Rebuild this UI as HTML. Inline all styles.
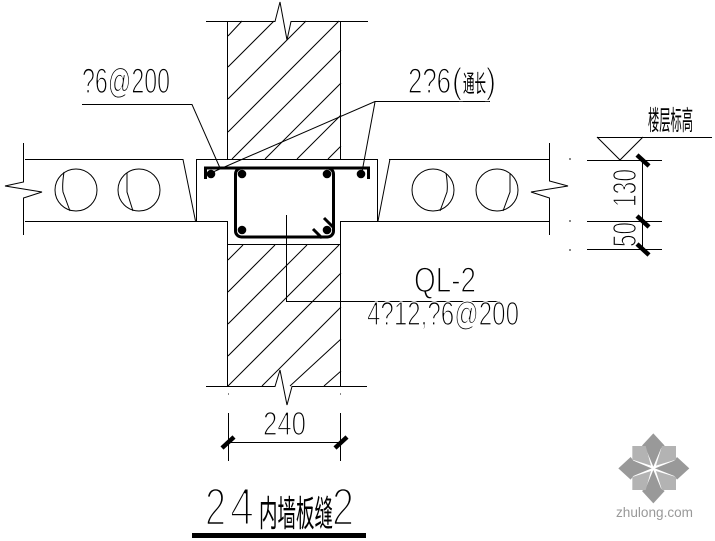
<!DOCTYPE html>
<html><head><meta charset="utf-8"><style>
html,body{margin:0;padding:0;background:#fff}
svg{display:block}
text{font-family:"Liberation Sans","Noto Sans CJK SC",sans-serif;fill:#000}
.t{stroke:#fff;stroke-width:1.3px}
.b{stroke:#fff;stroke-width:2.4px}
.c{stroke:none}
</style></head><body>
<svg width="715" height="541" viewBox="0 0 715 541" xmlns="http://www.w3.org/2000/svg">
<rect width="715" height="541" fill="#fff"/>
<g fill="none" stroke="#000" stroke-width="1">
<path d="M228 36L242 21M228 67L274 21M228 99L306 21M228 132L339 21M232 159L341 50M265 159L341 83M297 159L341 115M328 159L341 146"/>
<path d="M228 260L243 245M228 292L275 245M228 324L307 245M228 356L339 245M228 386L341 273M262 386L341 307M290 386L341 339M324 386L341 371"/>
<path d="M206 21.500H275L280 2L287 40L291 21.500H368"/>
<path d="M206 386.500H275L280 370L287 405L292 386.500H367"/>
<path d="M227.500 21V159M340.500 21V159M227.500 245V386M340.500 245V386"/>
<path d="M196.500 159.500H377.500V221.500H340.500V244.500H227.500V221.500H196.500Z"/>
<path d="M25 159.500H183L195.500 221M25 221.500H196"/>
<path d="M23.500 143V182L5 186L42 192L23.500 198V235"/>
<path d="M389 159.500H549M390 159L378 221M378 221.500H549"/>
<path d="M549.500 143V181L568 186L531 192L549.500 198V235"/>
<circle cx="76" cy="190" r="21"/><circle cx="139" cy="190" r="21"/>
<circle cx="433" cy="190" r="21"/><circle cx="497" cy="190" r="21"/>
<path d="M64 172Q62 185 63 192L70 211M127 173V192L133 211M446 173Q448 185 447 192L440 211M510 173V192L503 211"/>
<path d="M82 104.500H192L220 168"/>
<path d="M490 101.500H375L213 172M375 102L362 172"/>
<path d="M286.500 215V301.500H500"/>
<path d="M597 137.500H712M597 137L620 160L643 137"/>
<path d="M587 160.500H662M587 221.500H662M587 249.500H662M642.500 160V250"/>
<path d="M228.500 413V461M340.500 413V461M228 442.500H340"/>
</g>
<g fill="none" stroke="#000" stroke-width="3">
<rect x="235.500" y="168" width="98" height="69" rx="6"/>
<path d="M205.500 179V168H368.500V179"/>
<path d="M324 218L333 227M313 229L322 238"/>
</g>
<g fill="#000">
<circle cx="211" cy="174" r="4.300"/><circle cx="242" cy="174" r="4.300"/><circle cx="327" cy="174" r="4.300"/><circle cx="361" cy="174" r="4.300"/>
<circle cx="242" cy="230" r="4.300"/><circle cx="327" cy="230" r="4.300"/>
</g>
<g stroke="#000" stroke-width="4.500" fill="none">
<path d="M637 155L649 166M637 216L649 227M637 244L649 255"/>
<path d="M222 448L234 437M335 448L347 437"/>
</g>
<rect x="192" y="533" width="174" height="5" fill="#000"/>
<g fill="#888">
<rect x="228" y="393" width="1" height="2"/><rect x="340" y="393" width="1" height="2"/>
<rect x="569" y="158" width="2" height="2"/><rect x="569" y="220" width="2" height="2"/><rect x="569" y="249" width="2" height="2"/>
</g>
<text class="t" x="82" y="93" font-size="35" textLength="88" lengthAdjust="spacingAndGlyphs">?6@200</text>
<text class="t" x="408" y="93" font-size="35" textLength="43" lengthAdjust="spacingAndGlyphs">2?6</text>
<text class="t" x="452" y="93" font-size="36" textLength="10" lengthAdjust="spacingAndGlyphs">(</text>
<text class="c" x="463" y="92" font-size="24" textLength="23" lengthAdjust="spacingAndGlyphs">通长</text>
<text class="t" x="486" y="93" font-size="36" textLength="10" lengthAdjust="spacingAndGlyphs">)</text>
<text class="t" x="414" y="292" font-size="35" textLength="62" lengthAdjust="spacingAndGlyphs">QL-2</text>
<text class="t" x="367" y="325" font-size="33" textLength="152" lengthAdjust="spacingAndGlyphs">4?12,?6@200</text>
<text class="t" x="263" y="435" font-size="33" textLength="43" lengthAdjust="spacingAndGlyphs">240</text>
<text class="t" transform="translate(636 207) rotate(-90)" x="0" y="0" font-size="33" textLength="38" lengthAdjust="spacingAndGlyphs">130</text>
<text class="t" transform="translate(636 247) rotate(-90)" x="0" y="0" font-size="33" textLength="25" lengthAdjust="spacingAndGlyphs">50</text>
<text class="c" x="648" y="130" font-size="27" textLength="45" lengthAdjust="spacingAndGlyphs">楼层标高</text>
<text class="b" x="205" y="525" font-size="53" textLength="21" lengthAdjust="spacingAndGlyphs">2</text>
<text class="b" x="230" y="525" font-size="53" textLength="24" lengthAdjust="spacingAndGlyphs">4</text>
<text class="c" x="259" y="526" font-size="36" textLength="74" lengthAdjust="spacingAndGlyphs">内墙板缝</text>
<text class="b" x="332" y="525" font-size="53" textLength="22" lengthAdjust="spacingAndGlyphs">2</text>
<g transform="translate(600 425) scale(.3333)">
<g fill="#999">
<path d="M160 25L194 62L183 70L160 125L137 70L126 62Z"/>
<path d="M160 235L194 198L183 190L160 135L137 190L126 198Z"/>
<path d="M55 130L92 96L100 107L155 130L100 153L92 164Z"/>
<path d="M268 130L231 96L223 107L165 130L223 153L231 164Z"/>
</g>
<g fill="#b3b3b3">
<path d="M97 63H137L153 122L97 104Z"/>
<path d="M228 63H186L168 122L228 104Z"/>
<path d="M97 195H137L153 138L97 156Z"/>
<path d="M228 195H186L168 138L228 156Z"/>
</g>
</g>
<text x="616" y="517" font-size="13.500" textLength="77" lengthAdjust="spacingAndGlyphs" style="fill:#999">zhulong.com</text>
</svg>
</body></html>
